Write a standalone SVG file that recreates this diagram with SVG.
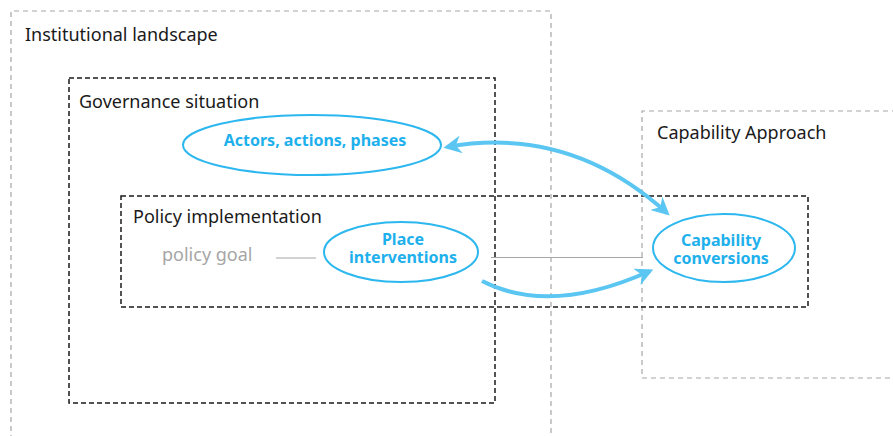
<svg xmlns="http://www.w3.org/2000/svg" width="893" height="436" viewBox="0 0 893 436">
<style>
.gray{fill:none;stroke:#a6a6a6;stroke-width:1.2;stroke-dasharray:5 4}
.black{fill:none;stroke:#1a1a1a;stroke-width:1.5;stroke-dasharray:5 3}
.lbl{font-family:"Noto Sans","DejaVu Sans",sans-serif;font-size:18px;fill:#1a1a1a}
.ell{fill:#fff;stroke:#2db7ef;stroke-width:2}
.et{font-family:"Noto Sans","DejaVu Sans",sans-serif;font-size:16px;font-weight:bold;fill:#1eb0ec;text-anchor:middle}
.arr{fill:none;stroke:#5bc6f1;stroke-width:4}
.thin{fill:none;stroke:#a6a6a6;stroke-width:1.2}
</style>
<defs>
<marker id="ah" viewBox="0 0 10 10" refX="8" refY="5" markerWidth="4.5" markerHeight="4.5" orient="auto-start-reverse" markerUnits="strokeWidth">
<path d="M0,0 L10,5 L0,10 L3,5 z" fill="#5bc6f1"/>
</marker>
</defs>
<g id="institutional-landscape">
<path class="gray" d="M11,440 V11 H551 V440"/>
<text class="lbl" x="25" y="41">Institutional landscape</text>
</g>
<g id="capability-approach">
<path class="gray" d="M897,111 H642 V378 H897"/>
<text class="lbl" x="657" y="139">Capability Approach</text>
</g>
<g id="governance-situation">
<rect class="black" x="69" y="78" width="426" height="325"/>
<text class="lbl" x="79" y="108">Governance situation</text>
</g>
<g id="policy-implementation">
<rect class="black" x="121" y="196" width="687" height="111"/>
<text class="lbl" x="133" y="223">Policy implementation</text>
</g>
<g id="connectors">
<path class="thin" d="M276,258 H316"/>
<path class="thin" d="M491,257.5 H643"/>
<path class="arr" d="M447,147 Q570,125 667,213" marker-start="url(#ah)" marker-end="url(#ah)"/>
<path class="arr" d="M482,281 Q550,316 650,271" marker-end="url(#ah)"/>
</g>
<g id="policy-goal">
<text class="lbl" x="162" y="261" style="fill:#a6a6a6">policy goal</text>
</g>
<g id="actors">
<ellipse class="ell" cx="312" cy="145" rx="129" ry="30"/>
<text class="et" x="315" y="146">Actors, actions, phases</text>
</g>
<g id="place-interventions">
<ellipse class="ell" cx="401" cy="252" rx="77" ry="30"/>
<text class="et"><tspan x="403" y="245">Place</tspan><tspan x="403" y="263">interventions</tspan></text>
</g>
<g id="capability-conversions">
<ellipse class="ell" cx="724" cy="248" rx="71" ry="34"/>
<text class="et"><tspan x="721" y="246">Capability</tspan><tspan x="721" y="264">conversions</tspan></text>
</g>
</svg>
